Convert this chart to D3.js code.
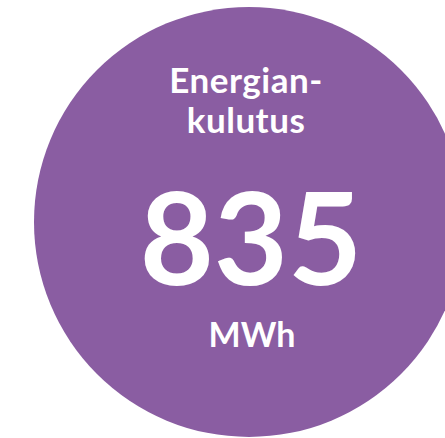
<!DOCTYPE html>
<html>
<head>
<meta charset="utf-8">
<script src="https://cdn.jsdelivr.net/npm/d3@7"></script>
<style>
  body { margin: 0; background: #fff; }
</style>
</head>
<body>
<script>
const width = 445, height = 438;

// data
const labelLines = ["Energian-", "kulutus"];
const values = [835];
const units = ["MWh"];

const svg = d3.select("body").append("svg")
  .attr("width", width)
  .attr("height", height);

const cx = 249, cy = 222, r = 215;

svg.append("circle")
  .attr("cx", cx)
  .attr("cy", cy)
  .attr("r", r)
  .attr("fill", "#8a5da2");

const font = "Lato, 'Open Sans', sans-serif";

svg.selectAll("text.label")
  .data(labelLines)
  .enter()
    .append("text")
    .attr("class", "label")
    .attr("x", cx - 3)
    .attr("y", (d, i) => 93 + i * 40)
    .attr("text-anchor", "middle")
    .attr("fill", "#fff")
    .attr("font-family", font)
    .attr("font-weight", 700)
    .attr("font-size", 35)
    .attr("letter-spacing", 0.5)
    .text(d => d);

svg.selectAll("text.value")
  .data(values)
  .enter()
    .append("text")
    .attr("class", "value")
    .attr("x", cx + 2)
    .attr("y", 285)
    .attr("text-anchor", "middle")
    .attr("fill", "#fff")
    .attr("font-family", font)
    .attr("font-weight", 700)
    .attr("font-size", 128)
    .text(d => d3.format("d")(d));

svg.selectAll("text.unit")
  .data(units)
  .enter()
    .append("text")
    .attr("class", "unit")
    .attr("x", cx + 3)
    .attr("y", 347)
    .attr("text-anchor", "middle")
    .attr("fill", "#fff")
    .attr("font-family", font)
    .attr("font-weight", 700)
    .attr("font-size", 34)
    .text(d => d);
</script>
</body>
</html>
